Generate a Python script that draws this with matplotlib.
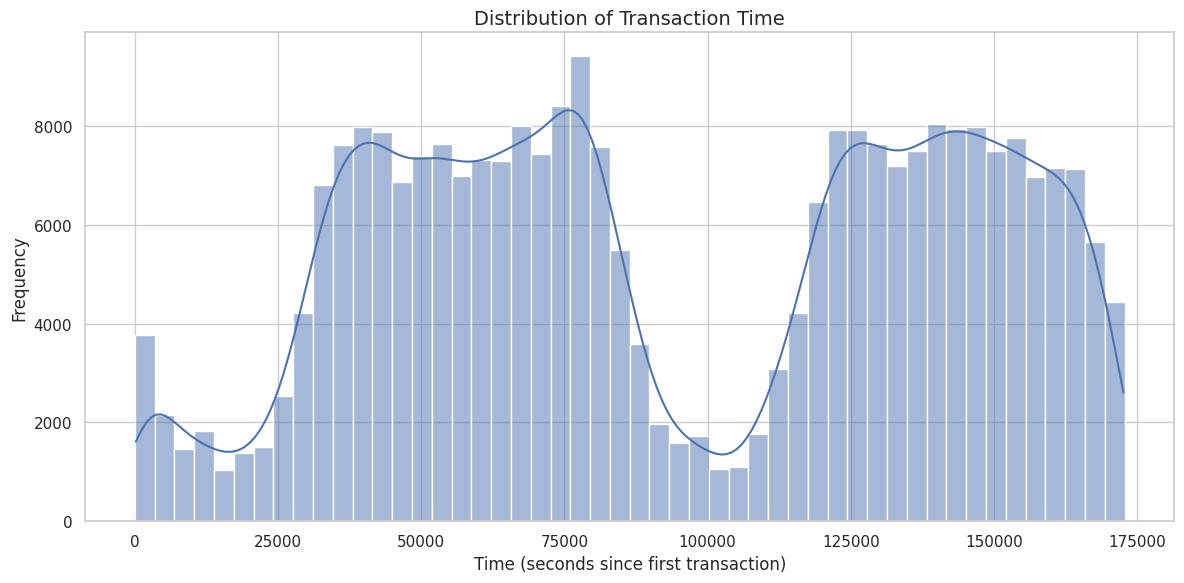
import numpy as np
import pandas as pd
import matplotlib
matplotlib.use("Agg")
import matplotlib.pyplot as plt
import seaborn as sns

# histogram of Time, 50 bins, counts
t_min = 0
t_max = 172792
counts = [3780, 2150, 1460, 1820, 1040, 1390, 1500, 2540, 4220, 6800,
          7610, 7980, 7890, 6880, 7390, 7650, 6990, 7320, 7290, 8000,
          7430, 8400, 9430, 7570, 5500, 3590, 1970, 1580, 1720, 1060,
          1090, 1760, 3080, 4220, 6460, 7920, 7920, 7650, 7190, 7490,
          8040, 7940, 7990, 7490, 7760, 6980, 7160, 7140, 5660, 4450]
n_total = 284807

edges = np.linspace(t_min, t_max, len(counts) + 1)
width = edges[1] - edges[0]

# spread each bin's count evenly over a few positions inside the bin
sub = 10
offs = (np.arange(sub) + 0.5) / sub * width
pos = (edges[:-1, None] + offs[None, :]).ravel()
wts = np.repeat(np.array(counts, dtype=float) / sub, sub)
df = pd.DataFrame({"Time": pos, "w": wts})

# shrink the kde bandwidth to what the full sample size would give
neff = df["w"].sum() ** 2 / (df["w"] ** 2).sum()
bw = (n_total / neff) ** (-1 / 5)

sns.set_theme(style="whitegrid")
fig, ax = plt.subplots(figsize=(12, 6), dpi=100)
sns.histplot(data=df, x="Time", weights="w", bins=list(edges), kde=True,
             kde_kws={"bw_adjust": bw}, ax=ax)
ax.set_title("Distribution of Transaction Time", fontsize=14)
ax.set_xlabel("Time (seconds since first transaction)")
ax.set_ylabel("Frequency")
fig.tight_layout()
fig.savefig("out.png", bbox_inches="tight")
